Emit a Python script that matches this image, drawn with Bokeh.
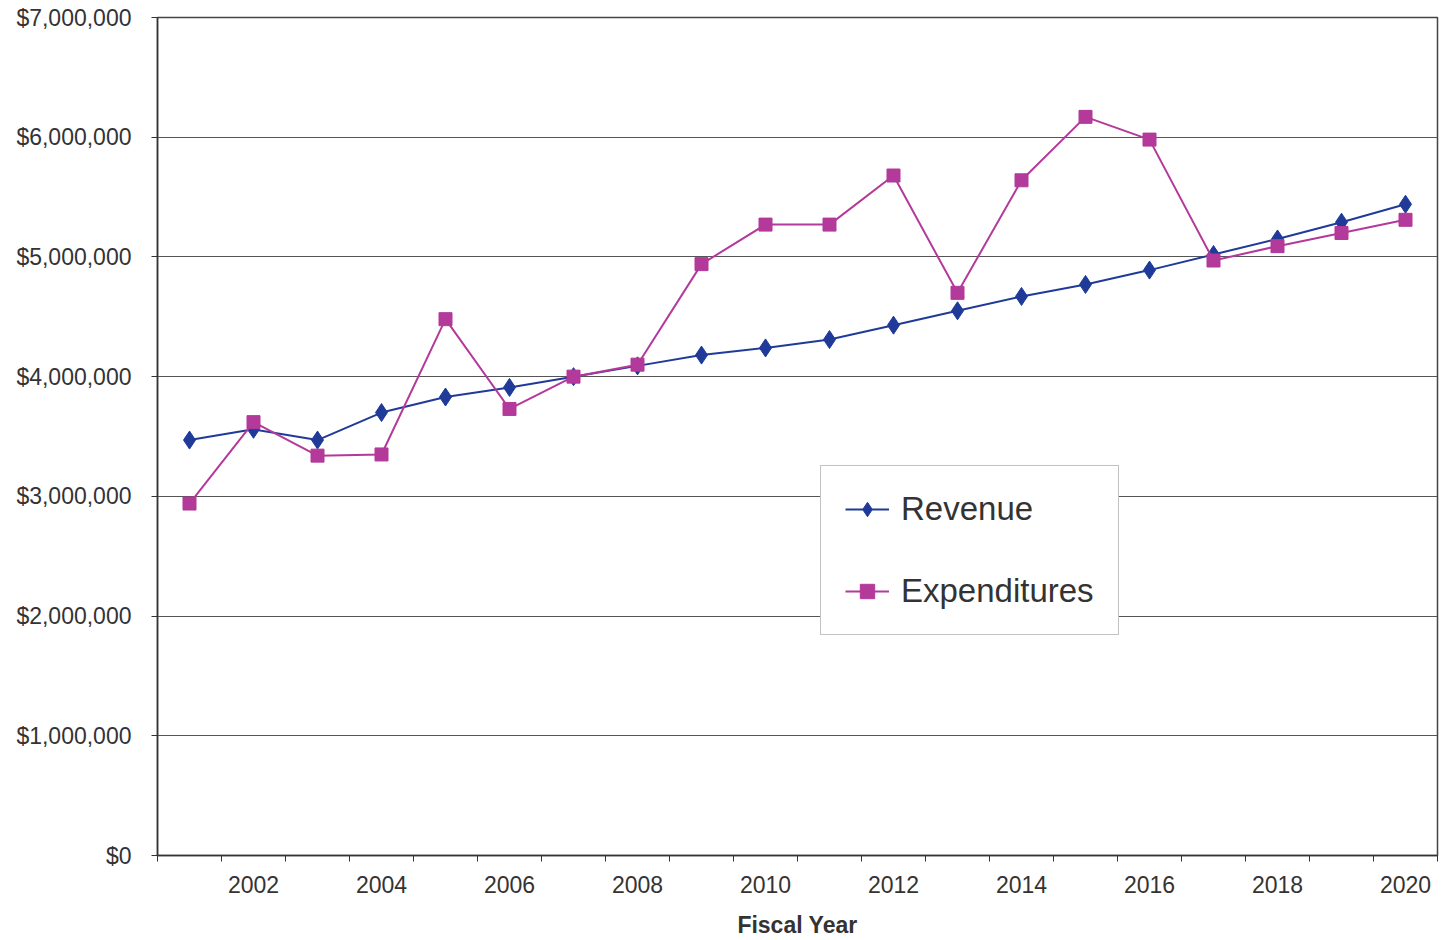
from bokeh.plotting import figure
from bokeh.models import Range1d, FixedTicker, NumeralTickFormatter, Legend, LegendItem
from bokeh.embed import file_html
from bokeh.resources import INLINE

years = list(range(2001, 2021))
revenue = [3470000, 3560000, 3470000, 3700000, 3830000, 3910000, 4000000, 4090000, 4180000, 4240000,
           4310000, 4430000, 4550000, 4670000, 4770000, 4890000, 5020000, 5150000, 5290000, 5440000]
expenditures = [2940000, 3620000, 3340000, 3350000, 4480000, 3730000, 4000000, 4100000, 4940000, 5270000,
                5270000, 5680000, 4700000, 5640000, 6170000, 5980000, 4970000, 5090000, 5200000, 5310000]
x_labels = [2002, 2004, 2006, 2008, 2010, 2012, 2014, 2016, 2018, 2020]
y_ticks = [0, 1000000, 2000000, 3000000, 4000000, 5000000, 6000000, 7000000]

FONT = "Liberation Sans"
TXT = "#333333"

p = figure(width=1441, height=940, output_backend="svg", toolbar_location=None,
           x_range=Range1d(2000.5, 2020.5), y_range=Range1d(0, 7000000),
           min_border_left=157, min_border_right=4, min_border_top=17, min_border_bottom=85)

p.background_fill_color = "white"
p.border_fill_color = "white"
p.outline_line_color = "#444444"
p.outline_line_width = 1.5

# x axis
p.xaxis.ticker = FixedTicker(ticks=x_labels, minor_ticks=[y + 0.5 for y in range(2000, 2021)])
p.xaxis.major_tick_in = 0
p.xaxis.major_tick_out = 0
p.xaxis.minor_tick_in = 0
p.xaxis.minor_tick_out = 6
p.xaxis.minor_tick_line_color = "#333333"
p.xaxis.axis_line_color = "#333333"
p.xaxis.axis_line_width = 1.5
p.xaxis.major_label_text_font = FONT
p.xaxis.major_label_text_font_size = "23px"
p.xaxis.major_label_text_color = TXT
p.xaxis.major_label_standoff = 14
p.xaxis.axis_label = "Fiscal Year"
p.xaxis.axis_label_text_font = FONT
p.xaxis.axis_label_text_font_size = "23px"
p.xaxis.axis_label_text_font_style = "bold"
p.xaxis.axis_label_text_color = TXT
p.xaxis.axis_label_standoff = 16

# y axis
p.yaxis.ticker = FixedTicker(ticks=y_ticks, minor_ticks=[])
p.yaxis.formatter = NumeralTickFormatter(format="$0,0")
p.yaxis.major_tick_in = 0
p.yaxis.major_tick_out = 6
p.yaxis.major_tick_line_color = "#333333"
p.yaxis.axis_line_color = "#333333"
p.yaxis.axis_line_width = 1.5
p.yaxis.major_label_text_font = FONT
p.yaxis.major_label_text_font_size = "23px"
p.yaxis.major_label_text_color = TXT
p.yaxis.major_label_standoff = 20

p.xgrid.grid_line_color = None
p.ygrid.grid_line_color = "#555555"
p.ygrid.grid_line_width = 1

rev_color = "#1f3a99"
exp_color = "#b3399a"

r1 = p.line(years, revenue, line_color=rev_color, line_width=2)
r1m = p.scatter(years, revenue, marker="diamond", size=18, fill_color=rev_color, line_color=rev_color)
r2 = p.line(years, expenditures, line_color=exp_color, line_width=2)
r2m = p.scatter(years, expenditures, marker="square", size=13, fill_color=exp_color, line_color=exp_color)

legend = Legend(items=[LegendItem(label="Revenue", renderers=[r1, r1m]),
                       LegendItem(label="Expenditures", renderers=[r2, r2m])],
                location=(663, 220))
legend.label_text_font = FONT
legend.label_text_font_size = "33px"
legend.label_text_color = TXT
legend.glyph_width = 44
legend.glyph_height = 36
legend.label_height = 36
legend.spacing = 44
legend.padding = 24
legend.margin = 0
legend.label_standoff = 12
legend.border_line_color = "#888888"
legend.border_line_width = 1.5
legend.background_fill_color = "white"
legend.background_fill_alpha = 1
p.add_layout(legend, "center")

open("out.html", "w").write(file_html(p, INLINE))
